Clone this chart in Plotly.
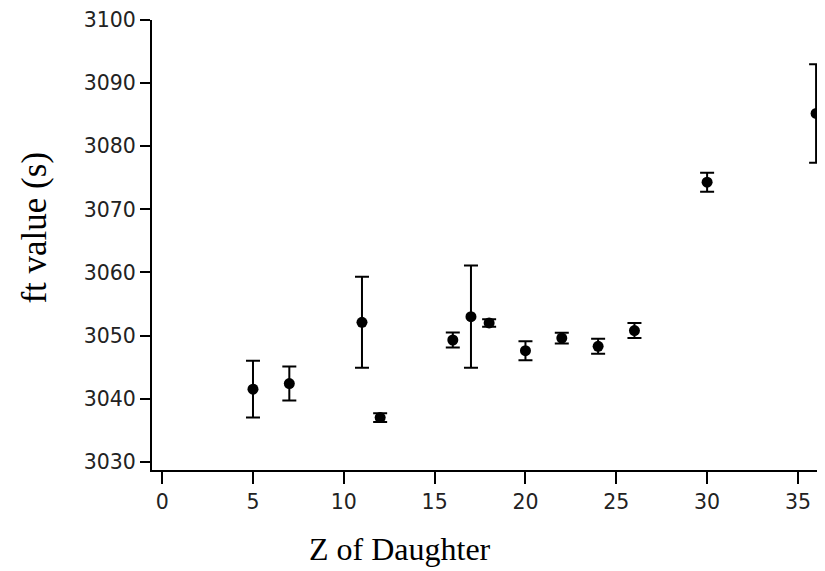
import plotly.graph_objects as go

z_daughter = [5, 7, 11, 12, 16, 17, 18, 20, 22, 24, 26, 30, 36]
ft_value = [3041.5, 3042.4, 3052.1, 3037.0, 3049.3, 3053.0, 3052.0,
            3047.6, 3049.6, 3048.3, 3050.8, 3074.3, 3085.2]
ft_error = [4.5, 2.7, 7.2, 0.7, 1.2, 8.1, 0.6, 1.5, 0.85, 1.2, 1.2, 1.5, 7.8]

x_ticks = [0, 5, 10, 15, 20, 25, 30, 35]
y_ticks = [3030, 3040, 3050, 3060, 3070, 3080, 3090, 3100]

fig = go.Figure()
fig.add_trace(go.Scatter(
    x=z_daughter, y=ft_value, mode="markers",
    marker=dict(color="black", size=11),
    error_y=dict(type="data", array=ft_error, visible=True,
                 color="black", thickness=2, width=7),
    cliponaxis=False, showlegend=False,
))

# page body has an 8px margin, so the figure is drawn 8px in from the window corner
tickfont = dict(family="DejaVu Sans", size=20.5, color="#222")
fig.update_layout(
    width=817, height=563,
    margin=dict(l=143.5, r=8.2, t=12, b=101, autoexpand=False),
    paper_bgcolor="white", plot_bgcolor="white",
    xaxis=dict(range=[-0.56, 36.05], tickvals=x_ticks, ticks="outside",
               ticklen=12, tickwidth=1.5, tickcolor="black",
               showline=True, linecolor="black", linewidth=2,
               showgrid=False, zeroline=False, tickfont=tickfont,
               automargin=False),
    yaxis=dict(range=[3028.7, 3100], tickvals=y_ticks, ticks="outside",
               ticklen=10, tickwidth=1.5, tickcolor="black",
               showline=True, linecolor="black", linewidth=2,
               showgrid=False, zeroline=False, tickfont=tickfont,
               automargin=False),
    annotations=[
        dict(text="Z of Daughter", xref="paper", yref="paper",
             x=(400 - 151.5) / 665.3, y=(470 - 549) / 450,
             xanchor="center", yanchor="middle", showarrow=False,
             font=dict(family="Liberation Serif", size=32, color="black")),
        dict(text="ft value (s)", xref="paper", yref="paper",
             x=(33 - 151.5) / 665.3, y=(470 - 228) / 450,
             xanchor="center", yanchor="middle", showarrow=False, textangle=-90,
             font=dict(family="Liberation Serif", size=35, color="black")),
    ],
)
fig.write_html("out.html")
